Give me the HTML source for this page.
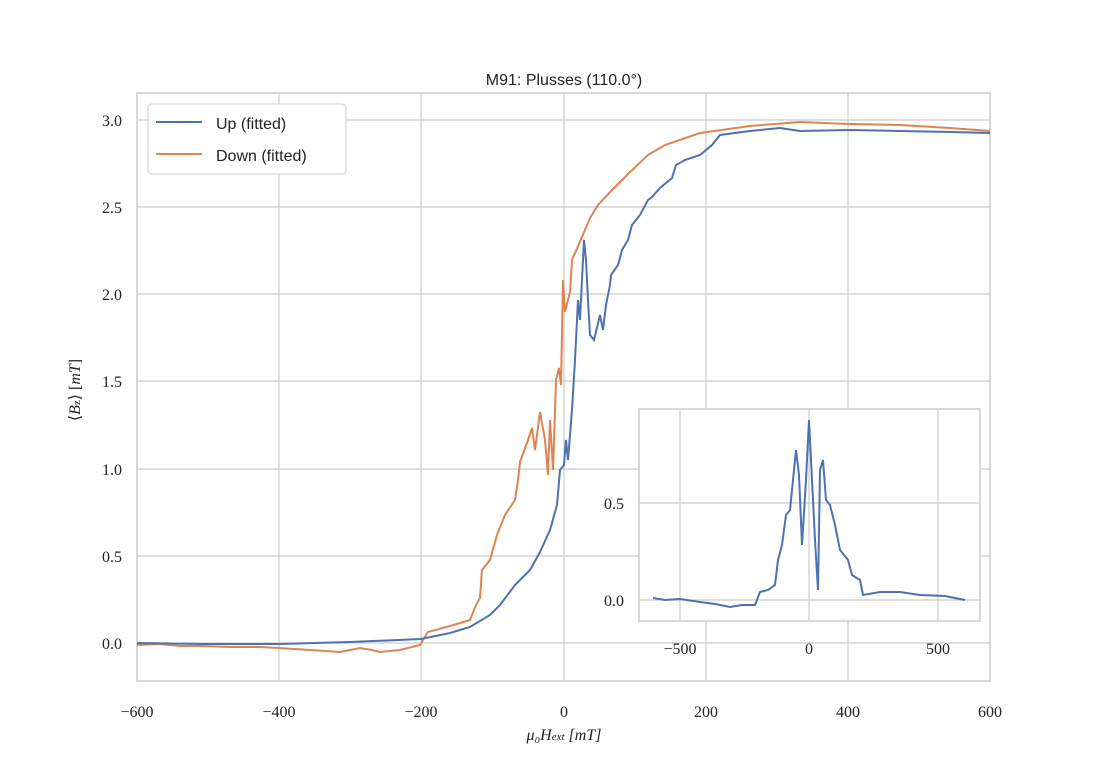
<!DOCTYPE html>
<html><head><meta charset="utf-8"><style>
body{margin:0;background:#fff}
text{font-family:"Liberation Serif",serif;font-size:16px;fill:#222}
.s{font-family:"Liberation Sans",sans-serif}
</style></head><body>
<svg width="1101" height="779" xmlns="http://www.w3.org/2000/svg">
<rect width="1101" height="779" fill="#fff"/>
<g stroke="#cccccc" stroke-width="1.2">
<line x1="279" y1="93" x2="279" y2="681"/><line x1="421" y1="93" x2="421" y2="681"/><line x1="564" y1="93" x2="564" y2="681"/><line x1="706" y1="93" x2="706" y2="681"/><line x1="848" y1="93" x2="848" y2="681"/>
<line x1="137" y1="643" x2="990" y2="643"/><line x1="137" y1="556" x2="990" y2="556"/><line x1="137" y1="469" x2="990" y2="469"/><line x1="137" y1="381" x2="990" y2="381"/><line x1="137" y1="294" x2="990" y2="294"/><line x1="137" y1="207" x2="990" y2="207"/><line x1="137" y1="120" x2="990" y2="120"/>
</g>
<rect x="137" y="93" width="853" height="588" fill="none" stroke="#cccccc" stroke-width="1.5"/>
<polyline fill="none" stroke="#dd8452" stroke-width="2" points="137,645 160,644 180,646 200,646 230,647 260,647 279,648 310,650 340,652 360,648 372,650 380,652 400,650 420,645 428,632 450,626 470,620 476,605 480,598 482,570 490,560 497,535 505,515 515,500 518,480 520,462 528,440 532,428 535,450 540,412 545,440 548,475 550,420 553,470 556,380 559,368 561,385 563,280 565,312 570,292 572,260 585,230 590,218 598,205 612,190 630,172 648,155 665,145 700,133 750,126 800,122 850,124 900,125 950,128 990,131"/>
<polyline fill="none" stroke="#4c72b0" stroke-width="2" points="137,643 200,644 279,644 350,642 421,639 450,633 470,627 490,615 500,605 515,585 530,570 540,552 550,530 557,505 560,470 564,465 566,440 568,460 572,410 575,360 578,300 580,320 582,280 584,240 586,260 588,300 590,335 594,340 600,315 603,330 606,305 610,285 611,275 618,265 622,250 628,240 632,225 640,215 648,200 652,197 660,188 672,178 676,165 685,160 700,155 712,145 720,135 750,131 780,128 800,131 850,130 900,131 950,132 990,133"/>
<text x="137" y="717" text-anchor="middle">−600</text><text x="279" y="717" text-anchor="middle">−400</text><text x="421" y="717" text-anchor="middle">−200</text><text x="564" y="717" text-anchor="middle">0</text><text x="706" y="717" text-anchor="middle">200</text><text x="848" y="717" text-anchor="middle">400</text><text x="990" y="717" text-anchor="middle">600</text>
<text x="122" y="649" text-anchor="end">0.0</text><text x="122" y="562" text-anchor="end">0.5</text><text x="122" y="475" text-anchor="end">1.0</text><text x="122" y="387" text-anchor="end">1.5</text><text x="122" y="300" text-anchor="end">2.0</text><text x="122" y="213" text-anchor="end">2.5</text><text x="122" y="126" text-anchor="end">3.0</text>
<text x="564" y="740" text-anchor="middle" font-style="italic">μ₀H<tspan font-size="11">ext</tspan> [mT]</text>
<text transform="translate(80,390) rotate(-90)" text-anchor="middle">⟨<tspan font-style="italic">B</tspan><tspan font-size="11">z</tspan>⟩ [<tspan font-style="italic">mT</tspan>]</text>
<text class="s" x="564" y="85" text-anchor="middle" font-size="18">M91: Plusses (110.0°)</text>
<rect x="148" y="104" width="198" height="70" rx="4" fill="#fff" stroke="#ccc"/>
<line x1="156" y1="122" x2="202" y2="122" stroke="#4c72b0" stroke-width="2"/>
<line x1="156" y1="154" x2="202" y2="154" stroke="#dd8452" stroke-width="2"/>
<text class="s" x="216" y="129" font-size="17">Up (fitted)</text>
<text class="s" x="216" y="161" font-size="17">Down (fitted)</text>
<rect x="639" y="409" width="341" height="212" fill="#fff"/>
<g stroke="#cccccc" stroke-width="1.2">
<line x1="680" y1="409" x2="680" y2="621"/><line x1="809" y1="409" x2="809" y2="621"/><line x1="938" y1="409" x2="938" y2="621"/>
<line x1="639" y1="600" x2="980" y2="600"/><line x1="639" y1="503" x2="980" y2="503"/>
</g>
<rect x="639" y="409" width="341" height="212" fill="none" stroke="#cccccc" stroke-width="1.5"/>
<polyline fill="none" stroke="#4c72b0" stroke-width="2" points="653,598 665,600 680,599 700,602 715,604 730,607 742,605 755,605 760,592 768,590 775,585 778,560 782,545 786,515 790,510 793,480 796,450 799,475 802,545 806,480 809,420 812,480 815,540 818,590 820,470 823,460 826,500 830,505 835,525 840,550 848,560 852,575 860,580 863,595 880,592 900,592 920,595 945,596 965,600"/>
<text x="680" y="654" text-anchor="middle">−500</text><text x="809" y="654" text-anchor="middle">0</text><text x="938" y="654" text-anchor="middle">500</text>
<text x="624" y="606" text-anchor="end">0.0</text><text x="624" y="509" text-anchor="end">0.5</text>
</svg>
</body></html>
